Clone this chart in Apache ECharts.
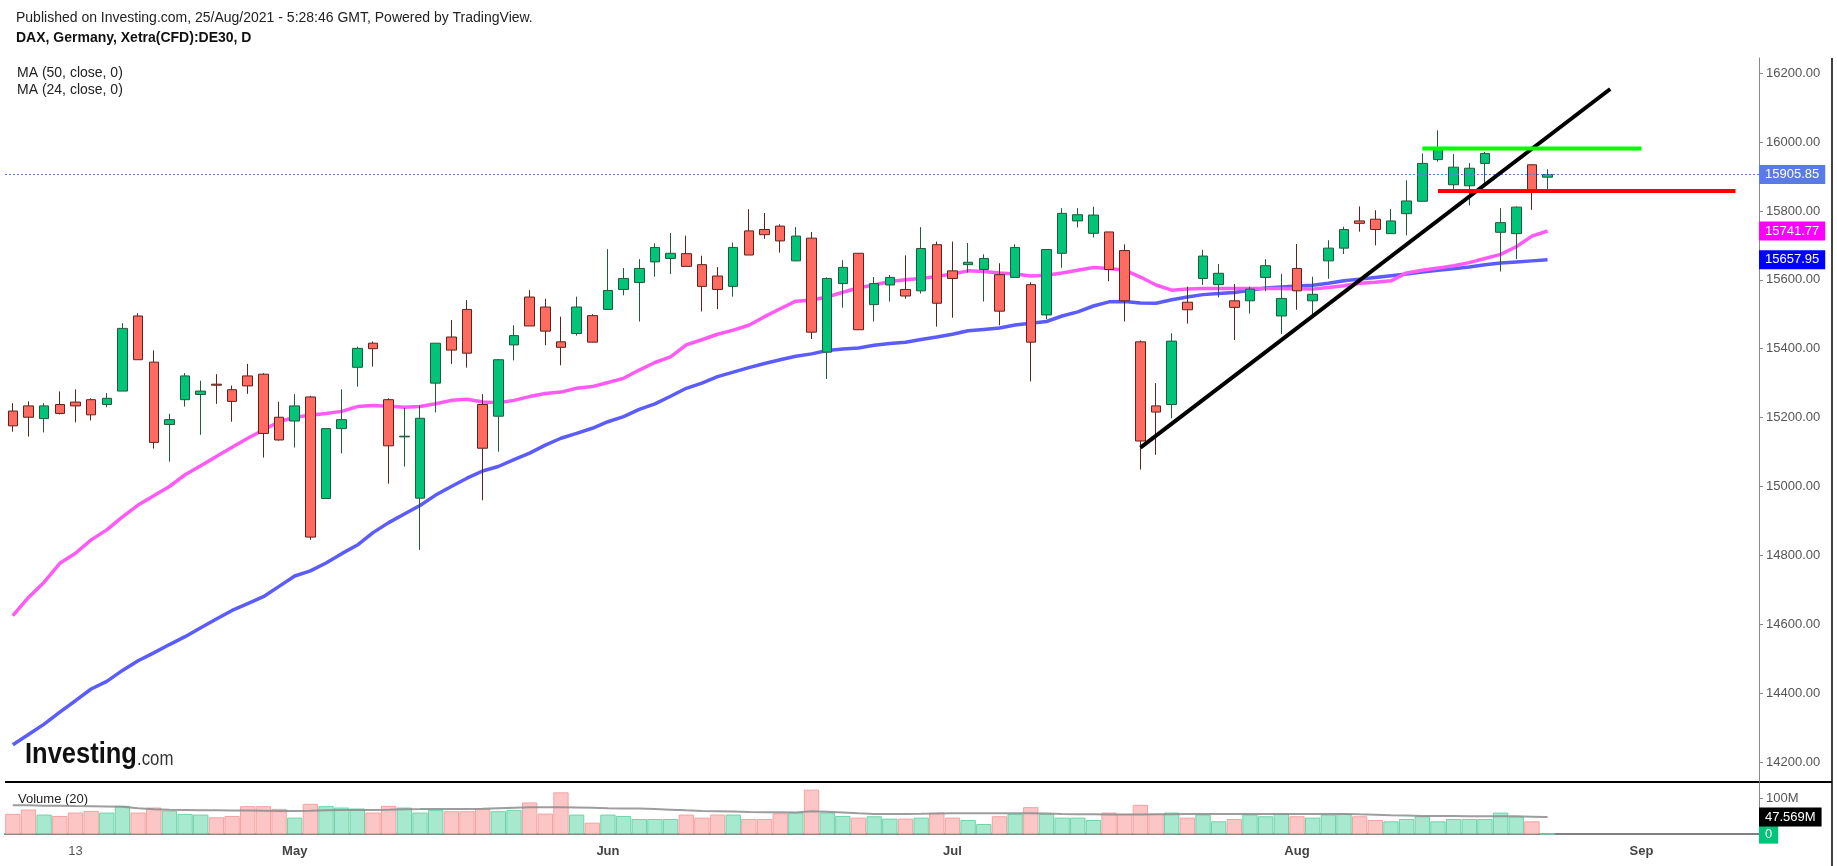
<!DOCTYPE html>
<html>
<head>
<meta charset="utf-8">
<title>DAX, Germany, Xetra(CFD):DE30, D</title>
<script src="https://cdn.jsdelivr.net/npm/echarts@6/dist/echarts.min.js"></script>
<style>
  html, body { margin: 0; padding: 0; background: #fff; }
  #main { width: 1837px; height: 866px; }
</style>
</head>
<body>
<div id="main"></div>
<script>
// trading days shown on the chart
var dates = [
  '2021-04-07','2021-04-08','2021-04-09','2021-04-12','2021-04-13','2021-04-14','2021-04-15','2021-04-16',
  '2021-04-19','2021-04-20','2021-04-21','2021-04-22','2021-04-23','2021-04-26','2021-04-27','2021-04-28',
  '2021-04-29','2021-04-30',
  '2021-05-03','2021-05-04','2021-05-05','2021-05-06','2021-05-07','2021-05-10','2021-05-11','2021-05-12',
  '2021-05-13','2021-05-14','2021-05-17','2021-05-18','2021-05-19','2021-05-20','2021-05-21','2021-05-25',
  '2021-05-26','2021-05-27','2021-05-28','2021-05-31',
  '2021-06-01','2021-06-02','2021-06-03','2021-06-04','2021-06-07','2021-06-08','2021-06-09','2021-06-10',
  '2021-06-11','2021-06-14','2021-06-15','2021-06-16','2021-06-17','2021-06-18','2021-06-21','2021-06-22',
  '2021-06-23','2021-06-24','2021-06-25','2021-06-28','2021-06-29','2021-06-30',
  '2021-07-01','2021-07-02','2021-07-05','2021-07-06','2021-07-07','2021-07-08','2021-07-09','2021-07-12',
  '2021-07-13','2021-07-14','2021-07-15','2021-07-16','2021-07-19','2021-07-20','2021-07-21','2021-07-22',
  '2021-07-23','2021-07-26','2021-07-27','2021-07-28','2021-07-29','2021-07-30',
  '2021-08-02','2021-08-03','2021-08-04','2021-08-05','2021-08-06','2021-08-09','2021-08-10','2021-08-11',
  '2021-08-12','2021-08-13','2021-08-16','2021-08-17','2021-08-18','2021-08-19','2021-08-20','2021-08-23',
  '2021-08-24'
];
// empty space to the right of the last bar
var futureDates = [
  '2021-08-25','2021-08-26','2021-08-27','2021-08-30','2021-08-31','2021-09-01','2021-09-02',
  '2021-09-03','2021-09-06','2021-09-07','2021-09-08','2021-09-09','2021-09-10'
];

// [open, close, low, high]
var ohlc = [
  [15219,15176,15159,15242],[15234,15201,15145,15247],[15197,15234,15157,15242],[15238,15212,15209,15276],
  [15245,15234,15186,15282],[15252,15208,15192,15256],[15238,15256,15230,15271],[15277,15459,15277,15474],
  [15495,15368,15368,15503],[15361,15128,15110,15395],[15180,15194,15072,15211],[15252,15321,15232,15329],
  [15267,15277,15150,15307],[15297,15294,15240,15326],[15281,15247,15188,15293],[15321,15292,15269,15356],
  [15326,15154,15084,15329],[15201,15135,15133,15246],[15190,15234,15113,15268],[15260,14853,14845,15263],
  [14965,15168,14964,15168],[15168,15194,15096,15282],[15346,15401,15290,15406],[15416,15400,15348,15421],
  [15252,15118,15008,15256],[15144,15146,15058,15228],[14966,15198,14816,15235],[15300,15416,15215,15416],
  [15434,15396,15356,15483],[15514,15387,15345,15541],[15238,15111,14960,15268],[15204,15368,15101,15370],
  [15411,15438,15366,15468],[15550,15466,15466,15570],[15521,15451,15410,15545],[15420,15404,15352,15493],
  [15444,15521,15438,15551],[15496,15419,15418,15500],[15514,15569,15513,15689],[15572,15604,15555,15634],
  [15592,15633,15479,15660],[15652,15694,15609,15706],[15662,15677,15617,15736],[15676,15639,15639,15728],
  [15644,15581,15508,15670],[15611,15572,15515,15637],[15581,15694,15551,15708],[15742,15672,15672,15805],
  [15746,15731,15719,15794],[15756,15713,15679,15761],[15655,15727,15654,15753],[15721,15448,15428,15739],
  [15390,15604,15312,15607],[15589,15636,15519,15657],[15677,15455,15454,15677],[15528,15589,15479,15608],
  [15585,15607,15537,15614],[15572,15553,15545,15671],[15568,15691,15560,15753],[15702,15532,15464,15711],
  [15626,15604,15490,15711],[15644,15651,15621,15707],[15630,15662,15537,15674],[15615,15509,15468,15648],
  [15607,15694,15607,15703],[15586,15419,15305,15593],[15498,15688,15486,15688],[15677,15793,15635,15808],
  [15771,15789,15752,15808],[15735,15788,15723,15812],[15739,15630,15596,15739],[15685,15539,15479,15703],
  [15420,15132,15049,15424],[15234,15216,15092,15300],[15238,15422,15198,15445],[15535,15513,15473,15580],
  [15604,15669,15585,15687],[15586,15619,15549,15646],[15539,15520,15425,15588],[15539,15573,15502,15580],
  [15607,15641,15567,15660],[15495,15546,15443,15617],[15633,15568,15513,15704],[15539,15558,15493,15609],
  [15655,15692,15603,15715],[15692,15746,15675,15754],[15771,15764,15740,15813],[15776,15746,15700,15802],
  [15734,15771,15734,15806],[15792,15829,15729,15889],[15828,15938,15828,15967],[15949,15979,15943,16034],
  [15876,15927,15859,15965],[15873,15924,15816,15939],[15938,15967,15880,15971],[15738,15766,15624,15808],
  [15734,15811,15660,15813],[15934,15854,15803,15936],[15898,15905.85,15863,15921]
];

// volume in millions
var volume = [
  56.2,68.3,54.3,50.5,59.9,64.6,59.9,78.6,59.9,73.9,
  65.5,56.2,54.3,46.8,50.5,77.7,77.7,70.2,45.9,84.2,
  77.7,73.9,71.1,59.9,78.6,73.9,59.9,67.4,63.6,63.6,
  71.1,63.6,67.4,88.0,57.1,116.1,54.3,31.8,54.3,50.5,
  42.1,42.1,42.1,54.3,45.9,54.3,54.3,42.1,42.1,58.0,
  59.9,123.6,59.9,50.5,45.9,49.6,43.1,43.1,45.9,59.9,
  45.9,39.3,28.1,49.6,56.2,74.9,56.2,45.9,45.9,39.3,
  59.9,56.2,81.4,56.2,59.9,45.9,54.3,35.6,42.1,54.3,
  49.6,56.2,49.6,45.9,54.3,56.2,49.6,39.3,35.6,42.1,
  49.6,35.6,42.1,42.1,42.1,59.9,48.7,35.6,1.0
];

var ma50 = [
  14250,14280,14310,14345,14378,14412,14434,14466,14494,14517,
  14541,14564,14590,14615,14640,14660,14680,14710,14740,14755,
  14778,14805,14830,14866,14895,14920,14945,14975,15000,15024,
  15045,15058,15078,15097,15120,15140,15154,15169,15188,15203,
  15224,15240,15262,15285,15300,15319,15332,15345,15357,15368,
  15378,15385,15395,15399,15402,15410,15415,15419,15427,15434,
  15442,15452,15456,15460,15469,15474,15479,15495,15507,15524,
  15536,15537,15533,15532,15542,15550,15557,15560,15563,15570,
  15576,15579,15582,15584,15590,15597,15602,15607,15612,15617,
  15623,15628,15632,15637,15644,15649,15652,15655,15657.95
];

var ma24 = [
  14625,14678,14722,14777,14806,14845,14874,14912,14946,14973,
  15000,15034,15060,15087,15114,15140,15164,15188,15201,15207,
  15212,15218,15232,15235,15233,15230,15232,15240,15250,15253,
  15245,15243,15250,15261,15270,15274,15285,15290,15302,15314,
  15338,15360,15376,15411,15426,15442,15454,15468,15493,15516,
  15538,15541,15550,15564,15577,15585,15595,15600,15604,15610,
  15617,15626,15624,15620,15617,15611,15613,15620,15628,15636,
  15633,15628,15608,15585,15570,15573,15575,15575,15575,15575,
  15575,15575,15574,15573,15578,15583,15590,15593,15597,15620,
  15628,15634,15641,15650,15662,15674,15696,15727,15741.77
];

var volMa = [
  80.5,80,79,78.5,78,77.7,77,76,72,69,
  67.5,67,66.5,66,65.5,65.5,65,64.5,64,65,
  66.5,67,67,67,68,69.3,69.5,70,70,70,
  70.2,72,73.5,74.9,74.9,74.9,74,73,72,71.5,
  71.1,70,68,66,64.5,63.6,62.5,61.5,61,60.5,
  59.9,63.6,62,60,58,56.2,56.2,56.2,56.5,57,
  58,58,58,58,58,58,57,56,55.2,55,
  54.5,54.3,54.3,55,55.5,56.2,56.2,56.2,56.2,56.2,
  56.2,56.2,56.2,56.2,56.2,56.2,55,54,52.4,51.5,
  50.5,50.2,50,49.8,49.6,49.6,49.4,48.5,47.569
];

// hand drawn lines: [bar index, price]
var trendLine = [[72, 15113], [102, 16154]];
var resistance = [[90, 15981], [104, 15981]];
var support = [[91, 15858], [110, 15858]];

var priceTicks = [14200, 14400, 14600, 14800, 15000, 15200, 15400, 15600, 15800, 16000, 16200];
var tickIdx = [4, 10, 18, 24, 30, 38, 44, 50, 60, 66, 72, 82, 88, 94, 104, 110];
var labelIdx = [4, 18, 38, 60, 82, 104];
var labelText = ['13', 'May', 'Jun', 'Jul', 'Aug', 'Sep'];

var FONT = 'Liberation Sans, Arial, sans-serif';
var cats = dates.concat(futureDates);

var lastClose = ohlc[ohlc.length - 1][1];
var lastMa50 = ma50[ma50.length - 1];
var lastMa24 = ma24[ma24.length - 1];
var lastVolMa = volMa[volMa.length - 1];

var volData = volume.map(function (v, i) {
  var up = ohlc[i][1] >= ohlc[i][0];
  return {
    value: v,
    itemStyle: {
      color: up ? '#a7e9cf' : '#fdc6c6',
      borderColor: up ? '#6fd4a8' : '#f5a2a2',
      borderWidth: 1
    }
  };
});

// value tag drawn on the price scale
function endLabel(bg, text) {
  return {
    show: true,
    position: 'end',
    distance: 0,
    formatter: function () { return text; },
    color: '#fff',
    backgroundColor: bg,
    padding: [3, 6, 3, 6],
    fontSize: 13,
    fontFamily: FONT
  };
}
var hidden = { color: 'rgba(0,0,0,0)', width: 1, type: 'solid' };

var chart = echarts.init(document.getElementById('main'));

var option = {
  animation: false,
  backgroundColor: '#fff',
  grid: [
    { left: 5, right: 78, top: 58, height: 724 },
    { left: 5, right: 78, top: 783, height: 54 }
  ],
  xAxis: [
    { type: 'category', gridIndex: 0, data: cats, boundaryGap: true, show: false },
    {
      type: 'category', gridIndex: 1, data: cats, boundaryGap: true,
      axisLine: { lineStyle: { color: '#808080', width: 2 } },
      axisTick: {
        alignWithLabel: true, length: 4,
        interval: function (i) { return tickIdx.indexOf(i) >= 0; },
        lineStyle: { color: '#808080' }
      },
      axisLabel: {
        interval: function (i) { return labelIdx.indexOf(i) >= 0; },
        formatter: function (v, i) {
          var k = labelIdx.indexOf(i);
          if (k < 0) return '';
          return k === 0 ? '{d|' + labelText[k] + '}' : '{m|' + labelText[k] + '}';
        },
        margin: 8,
        rich: {
          d: { color: '#555', fontSize: 13, fontFamily: FONT },
          m: { color: '#444', fontSize: 13, fontWeight: 'bold', fontFamily: FONT }
        }
      },
      splitLine: { show: false }
    }
  ],
  yAxis: [
    {
      type: 'value', gridIndex: 0, position: 'right', min: 14142, max: 16244,
      axisLine: { show: true, lineStyle: { color: '#888' } },
      axisTick: { show: true, length: 4, customValues: priceTicks, lineStyle: { color: '#888' } },
      axisLabel: {
        customValues: priceTicks, margin: 7, color: '#555', fontSize: 13, fontFamily: FONT,
        formatter: function (v) { return v.toFixed(2); }
      },
      splitLine: { show: false }
    },
    {
      type: 'value', gridIndex: 1, position: 'right', min: -8, max: 142,
      axisLine: { show: true, lineStyle: { color: '#888' } },
      axisTick: { show: true, length: 4, customValues: [100], lineStyle: { color: '#888' } },
      axisLabel: {
        customValues: [100], margin: 7, color: '#555', fontSize: 13, fontFamily: FONT,
        formatter: function (v) { return v + 'M'; }
      },
      splitLine: { show: false }
    }
  ],
  series: [
    {
      name: 'MA (50, close, 0)', type: 'line', xAxisIndex: 0, yAxisIndex: 0,
      data: ma50, symbol: 'none', z: 2,
      lineStyle: { color: '#5c5cfb', width: 3.5 },
      markLine: {
        silent: true, symbol: ['none', 'none'], lineStyle: hidden,
        label: endLabel('#0000ff', lastMa50.toFixed(2)),
        data: [{ yAxis: lastMa50 }]
      }
    },
    {
      name: 'MA (24, close, 0)', type: 'line', xAxisIndex: 0, yAxisIndex: 0,
      data: ma24, symbol: 'none', z: 2,
      lineStyle: { color: '#ff5af5', width: 3.5 },
      markLine: {
        silent: true, symbol: ['none', 'none'], lineStyle: hidden,
        label: endLabel('#ff00ff', lastMa24.toFixed(2)),
        data: [{ yAxis: lastMa24 }]
      }
    },
    {
      name: 'DE30', type: 'candlestick', xAxisIndex: 0, yAxisIndex: 0,
      data: ohlc, barWidth: '64%', z: 3,
      itemStyle: {
        color: '#00c477', color0: '#ff6b61',
        borderColor: '#225a3c', borderColor0: '#5e231d', borderWidth: 1
      },
      markLine: {
        silent: true, symbol: ['none', 'none'],
        lineStyle: { color: '#5a7be6', width: 1, type: [2, 2] },
        label: endLabel('#5a7be6', lastClose.toFixed(2)),
        data: [{ yAxis: lastClose }]
      }
    },
    {
      type: 'line', xAxisIndex: 0, yAxisIndex: 0, data: trendLine, symbol: 'none', z: 5,
      lineStyle: { color: '#000', width: 4 }
    },
    {
      type: 'line', xAxisIndex: 0, yAxisIndex: 0, data: resistance, symbol: 'none', z: 5,
      lineStyle: { color: '#00ff00', width: 4 }
    },
    {
      type: 'line', xAxisIndex: 0, yAxisIndex: 0, data: support, symbol: 'none', z: 5,
      lineStyle: { color: '#ff0000', width: 4 }
    },
    {
      name: 'Volume', type: 'bar', xAxisIndex: 1, yAxisIndex: 1,
      data: volData, barWidth: '98%',
      markLine: {
        silent: true, symbol: ['none', 'none'], lineStyle: hidden,
        label: endLabel('#00c477', '0'),
        data: [{ yAxis: 0 }]
      }
    },
    {
      name: 'Volume MA', type: 'line', xAxisIndex: 1, yAxisIndex: 1,
      data: volMa, symbol: 'none', z: 3,
      lineStyle: { color: '#8c8c8c', width: 2, opacity: 0.85 },
      markLine: {
        silent: true, symbol: ['none', 'none'], lineStyle: hidden,
        label: endLabel('#000', String(lastVolMa) + 'M'),
        data: [{ yAxis: lastVolMa }]
      }
    }
  ],
  graphic: [
    { type: 'text', x: 16, y: 18, style: { text: 'Published on Investing.com, 25/Aug/2021 - 5:28:46 GMT, Powered by TradingView.', font: '14px ' + FONT, fill: '#222', verticalAlign: 'middle' } },
    { type: 'text', x: 16, y: 38, style: { text: 'DAX, Germany, Xetra(CFD):DE30, D', font: 'bold 14px ' + FONT, fill: '#111', verticalAlign: 'middle' } },
    { type: 'text', x: 17, y: 73, style: { text: 'MA (50, close, 0)', font: '14px ' + FONT, fill: '#222', verticalAlign: 'middle' } },
    { type: 'text', x: 17, y: 90, style: { text: 'MA (24, close, 0)', font: '14px ' + FONT, fill: '#222', verticalAlign: 'middle' } },
    { type: 'text', x: 25, y: 755, scaleX: 0.85, style: { text: 'Investing', font: 'bold 30px ' + FONT, fill: '#111', verticalAlign: 'middle' } },
    { type: 'text', x: 137, y: 759, scaleX: 0.8, style: { text: '.com', font: '21px ' + FONT, fill: '#333', verticalAlign: 'middle' } },
    { type: 'text', x: 18, y: 799, style: { text: 'Volume (20)', font: '13px ' + FONT, fill: '#222', verticalAlign: 'middle' } },
    { type: 'line', shape: { x1: 5, y1: 782, x2: 1832, y2: 782 }, style: { stroke: '#000', lineWidth: 2 } },
    { type: 'line', shape: { x1: 1832, y1: 58, x2: 1832, y2: 866 }, style: { stroke: '#000', lineWidth: 1.5 } }
  ]
};

chart.setOption(option);
</script>
</body>
</html>
